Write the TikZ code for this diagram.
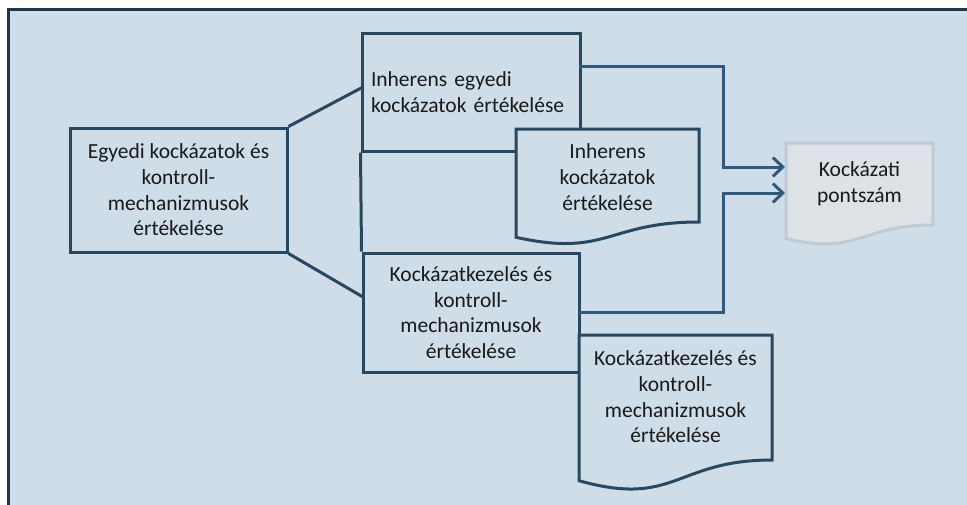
\documentclass[tikz,border=0pt]{standalone}
\usepackage{fontspec}
\setmainfont{Carlito}
\usetikzlibrary{arrows.meta}
\definecolor{bgcol}{RGB}{207,221,233}
\definecolor{linecol}{RGB}{40,72,96}
\definecolor{framecol}{RGB}{30,55,75}
\definecolor{arrcol}{RGB}{47,90,125}
\definecolor{docfill}{RGB}{221,226,231}
\definecolor{docline}{RGB}{192,202,211}
\definecolor{txt}{RGB}{25,25,25}
\tikzset{
  box/.style={draw=linecol, line width=3pt, fill=bgcol, rectangle, inner sep=0pt,
    font=\fontsize{21.5}{25.7}\selectfont, text=txt, align=center},
  doctext/.style={font=\fontsize{21.5}{25.7}\selectfont, text=txt, align=center, inner sep=0pt},
  docshape/.style={draw=linecol, line width=3pt, fill=bgcol},
  conn/.style={draw=linecol, line width=3pt},
  arrconn/.style={draw=arrcol, line width=3pt, -{Straight Barb[length=10pt,width=19pt,line width=3pt]}},
}
\begin{document}
\begin{tikzpicture}[x=1pt,y=-1pt]
\useasboundingbox (0,0) rectangle (967,504);
\fill[white] (0,0) rectangle (967,504);
\fill[bgcol] (7,8) rectangle (970,510);
\draw[framecol, line width=3pt] (8.5,510) -- (8.5,9.5) -- (970,9.5);

% left box
\node[box, minimum width=217pt, minimum height=124pt] (A) at (178.5,190)
  {Egyedi kockázatok és\\kontroll-\\mechanizmusok\\értékelése};
% top box
\node[box, minimum width=216pt, minimum height=118pt, text width=200pt, align=left, inner xsep=9pt] (B) at (471,92)
  {Inherens egyedi\\kockázatok értékelése};
% lower box
\node[box, minimum width=216pt, minimum height=119pt] (D) at (471,312.5)
  {Kockázatkezelés és\\kontroll-\\mechanizmusok\\értékelése};

% document C
\draw[docshape] (516,129) -- (699,129) -- (699,222)
  .. controls (607.5,222) and (607.5,257.5) .. (516,237.3) -- cycle;
\node[doctext] (C) at (607.5,177) {Inherens\\kockázatok\\értékelése};

% document E
\draw[docshape] (579,335) -- (772,335) -- (772,460)
  .. controls (675.5,460) and (675.5,507.8) .. (579,480.7) -- cycle;
\node[doctext] (E) at (675.5,397) {Kockázatkezelés és\\kontroll-\\mechanizmusok\\értékelése};

% document F
\draw[draw=docline, fill=docfill, line width=3pt] (786,143) -- (933,143) -- (933,225)
  .. controls (859.5,225) and (859.5,256.2) .. (786,238.5) -- cycle;
\node[doctext] (F) at (859.5,184) {Kockázati\\pontszám};

% connectors
\coordinate (Bin) at (363,87);
\coordinate (Din) at (363,297);
\draw[conn] (A.north east) -- (Bin);
\draw[conn] (A.south east) -- (Din);
\draw[conn] (B.south west) -- (D.north west);

\coordinate (Bout) at (579,66);
\coordinate (Dout) at (579,312);
\coordinate (Fin1) at (785,167);
\coordinate (Fin2) at (785,193);
\draw[arrconn] (Bout) -- (723,66) -- (723,167) -- (Fin1);
\draw[arrconn] (Dout) -- (723,312) -- (723,193) -- (Fin2);
\end{tikzpicture}
\end{document}
